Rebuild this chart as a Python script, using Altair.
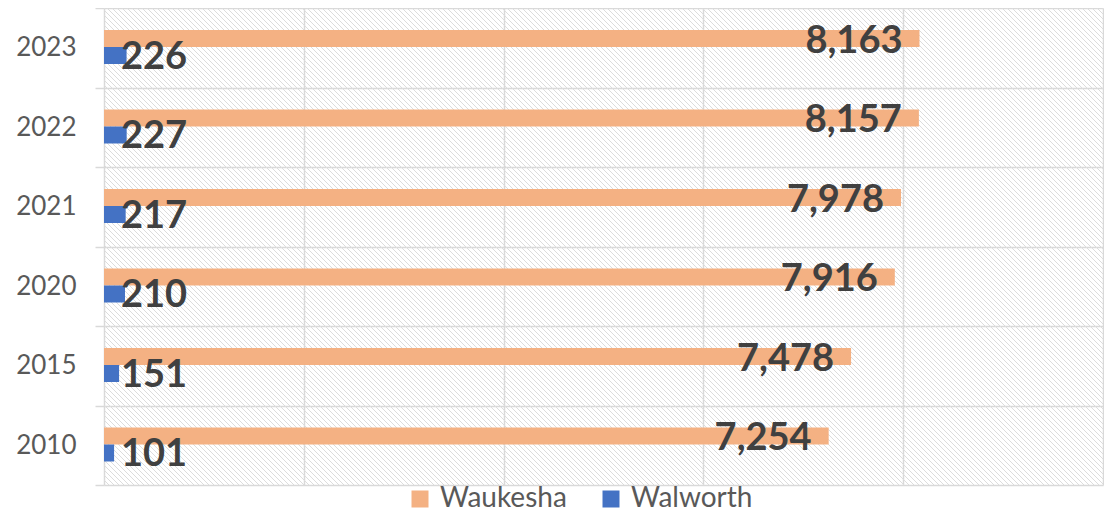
import altair as alt
import pandas as pd

years = ["2023", "2022", "2021", "2020", "2015", "2010"]
waukesha = [8163, 8157, 7978, 7916, 7478, 7254]
walworth = [226, 227, 217, 210, 151, 101]
series = ["Waukesha", "Walworth"]
colors = ["#F4B183", "#4472C4"]
x_ticks = [0, 2000, 4000, 6000, 8000, 10000]

rows = []
for i, yr in enumerate(years):
    rows.append({"year": yr, "series": "Waukesha", "value": waukesha[i], "label": f"{waukesha[i]:,}"})
    rows.append({"year": yr, "series": "Walworth", "value": walworth[i], "label": f"{walworth[i]:,}"})
df = pd.DataFrame(rows)

W, H = 999, 477
FONT = "Lato"
GRID = "#D9D9D9"

y_enc = alt.Y(
    "year:N", sort=years, title=None,
    scale=alt.Scale(domain=years, paddingInner=0, paddingOuter=0),
    axis=alt.Axis(tickBand="extent", domain=False, ticks=True, tickSize=9, tickColor=GRID,
                  tickWidth=1.5, grid=True, gridColor=GRID, gridWidth=1.5,
                  labelFont=FONT, labelFontSize=26, labelColor="#595959", labelPadding=19),
)
x_enc = alt.X(
    "value:Q", title=None,
    scale=alt.Scale(domain=[0, 10000], nice=False, zero=True),
    axis=alt.Axis(values=x_ticks, labels=False, ticks=False, domain=False,
                  grid=True, gridColor=GRID, gridWidth=1.5),
)
yoff = alt.YOffset("series:N", sort=series,
                   scale=alt.Scale(domain=series, paddingInner=0, paddingOuter=0, range=[22, 56]))
color = alt.Color(
    "series:N", sort=series,
    scale=alt.Scale(domain=series, range=colors),
    legend=alt.Legend(orient="none", legendX=302, legendY=477, direction="horizontal",
                      title=None, symbolType="square", symbolSize=289, symbolStrokeWidth=0,
                      labelFont=FONT, labelFontSize=28, labelColor="#595959",
                      columnPadding=30, labelOffset=6, padding=0),
)

base = alt.Chart(df)

bars = base.mark_bar().encode(y=y_enc, x=x_enc, yOffset=yoff, color=color)

wk_text = base.transform_filter(alt.datum.series == "Waukesha").mark_text(
    align="right", baseline="middle", dx=-17, dy=3, font=FONT, fontSize=38,
    fontWeight="bold", color="#404040"
).encode(y=y_enc, yOffset=yoff, x=x_enc, text="label:N")

wa_text = base.transform_filter(alt.datum.series == "Walworth").mark_text(
    align="left", baseline="middle", dx=17, dy=2, font=FONT, fontSize=38,
    fontWeight="bold", color="#404040"
).encode(y=y_enc, yOffset=yoff, x=alt.datum(0), text="label:N")

hatch = alt.Chart(alt.sequence(0, 300, as_="k")).transform_calculate(
    hx1=f"datum.k*5 - {H}", hx2="datum.k*5", hy1="0", hy2=f"{H}"
).mark_rule(stroke="#DCDCDC", strokeWidth=1, clip=True).encode(
    x=alt.X("hx1:Q", scale=None, axis=None),
    x2="hx2:Q",
    y=alt.Y("hy1:Q", scale=None, axis=None),
    y2="hy2:Q",
)

main = alt.layer(bars, wk_text, wa_text)

chart = alt.layer(hatch, main).resolve_scale(x="independent", y="independent").properties(
    width=W, height=H,
    autosize=alt.AutoSizeParams(type="none"),
    padding={"left": 96, "top": 0, "right": 1, "bottom": 33},
).configure_view(stroke=None)

chart.save("out.html", embed_options={"renderer": "svg", "actions": False})
